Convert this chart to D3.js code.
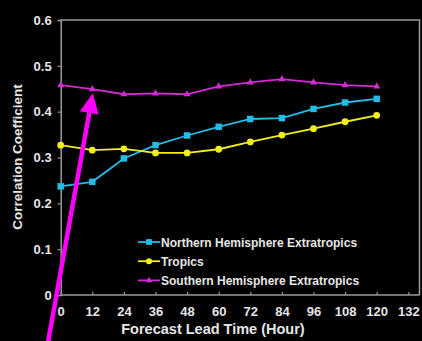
<!DOCTYPE html>
<html><head><meta charset="utf-8">
<script src="https://cdn.jsdelivr.net/npm/d3@7"></script>
<style>
html,body{margin:0;padding:0;background:#000;}
svg{display:block;font-family:"Liberation Sans",Arial,sans-serif;}
</style></head>
<body>
<svg id="c" width="422" height="341"></svg>
<script>
const hours = [0,12,24,36,48,60,72,84,96,108,120];
const xTicks = [0,12,24,36,48,60,72,84,96,108,120,132];
const yTicks = [0,0.1,0.2,0.3,0.4,0.5,0.6];
const nhValues = [0.237,0.247,0.298,0.327,0.348,0.367,0.384,0.386,0.406,0.420,0.428];
const tropicsValues = [0.327,0.316,0.319,0.310,0.310,0.318,0.334,0.349,0.363,0.378,0.392];
const shValues = [0.458,0.449,0.438,0.440,0.438,0.455,0.464,0.471,0.464,0.458,0.455];
const seriesNames = ["Northern Hemisphere Extratropics","Tropics","Southern Hemisphere Extratropics"];
const seriesColors = ["#22bde6","#f2ee1a","#d42ad4"];

const svg = d3.select("#c");
const x = d3.scaleLinear().domain([0,132]).range([60.7,408.3]);
const y = d3.scaleLinear().domain([0,0.6]).range([295,20]);
const pLeft = 60.7, pRight = 419.5, pTop = 20, pBottom = 295;
const axisColor = "#9a9a9a";
const textColor = "#e6e6e6";

// plot frame (top and right)
svg.append("path").attr("d",`M${pLeft},${pTop}H${pRight}V${pBottom}`)
  .attr("fill","none").attr("stroke",axisColor).attr("stroke-width",1.5);

// y axis
const ya = svg.append("g").attr("transform",`translate(${pLeft},0)`)
  .call(d3.axisLeft(y).tickValues(yTicks).tickSize(3).tickFormat(d=>d===0?"0":d3.format(".1f")(d)).tickPadding(6));
ya.select(".domain").attr("stroke",axisColor).attr("stroke-width",1.5);
ya.selectAll(".tick line").attr("stroke",axisColor).attr("stroke-width",1.2);
ya.selectAll(".tick text").attr("fill",textColor).attr("font-size",13).attr("font-weight","bold")
  .attr("font-family","Liberation Sans, Arial, sans-serif");

// x axis
const xa = svg.append("g").attr("transform",`translate(0,${pBottom})`)
  .call(d3.axisBottom(x).tickValues(xTicks).tickSize(-3).tickPadding(12).tickSizeOuter(0));
xa.select(".domain").attr("stroke",axisColor).attr("stroke-width",1.5)
  .attr("d",`M${pLeft},0H${pRight}`);
xa.selectAll(".tick line").attr("stroke",axisColor).attr("stroke-width",1.2);
xa.selectAll(".tick text").attr("fill",textColor).attr("font-size",13).attr("font-weight","bold")
  .attr("font-family","Liberation Sans, Arial, sans-serif");

// axis titles
svg.append("text").attr("x",213).attr("y",334).attr("text-anchor","middle")
  .attr("fill",textColor).attr("font-size",14.5).attr("font-weight","bold")
  .text("Forecast Lead Time (Hour)");
svg.append("text").attr("transform","translate(22,157) rotate(-90)").attr("text-anchor","middle")
  .attr("fill",textColor).attr("font-size",13.5).attr("font-weight","bold")
  .text("Correlation Coefficient");

const allSeries = [nhValues, tropicsValues, shValues];
const symbols = [d3.symbolSquare, d3.symbolCircle, d3.symbolTriangle];
const symSizes = [42, 36, 22];
const line = d3.line().x((d,i)=>x(hours[i])).y(d=>y(d));

allSeries.forEach((vals,k)=>{
  const g = svg.append("g");
  g.append("path").datum(vals).attr("d",line).attr("fill","none")
    .attr("stroke",seriesColors[k]).attr("stroke-width",1.8);
  g.selectAll("path.m").data(vals).join("path").attr("class","m")
    .attr("transform",(d,i)=>`translate(${x(hours[i])},${y(d)})`)
    .attr("d",d3.symbol().type(symbols[k]).size(symSizes[k]))
    .attr("fill",seriesColors[k]);
});

// legend
const lg = svg.append("g");
seriesNames.forEach((name,k)=>{
  const yy = 242 + k*19.2;
  lg.append("line").attr("x1",138).attr("x2",160).attr("y1",yy).attr("y2",yy)
    .attr("stroke",seriesColors[k]).attr("stroke-width",1.8);
  lg.append("path").attr("transform",`translate(149,${yy})`)
    .attr("d",d3.symbol().type(symbols[k]).size(symSizes[k]*0.8)).attr("fill",seriesColors[k]);
  lg.append("text").attr("x",161).attr("y",yy+4.5).attr("fill",textColor)
    .attr("font-size",12).attr("font-weight","bold").text(name);
});

// annotation arrow pointing at the SH 12h point
const tipX = x(hours[1]) + 0.5, tipY = y(shValues[1]) + 4;
const sx = 47.5, sy = 345;
const ang = Math.atan2(tipY - sy, tipX - sx);
const headLen = 20, headW = 9.5;
const bx = tipX - headLen*Math.cos(ang), by = tipY - headLen*Math.sin(ang);
svg.append("line").attr("x1",sx).attr("y1",sy).attr("x2",bx).attr("y2",by)
  .attr("stroke","#ff00ff").attr("stroke-width",4.5);
const px = -Math.sin(ang), py = Math.cos(ang);
svg.append("path")
  .attr("d",`M${tipX},${tipY}L${bx+px*headW},${by+py*headW}L${bx-px*headW},${by-py*headW}Z`)
  .attr("fill","#ff00ff");
</script>
</body></html>
